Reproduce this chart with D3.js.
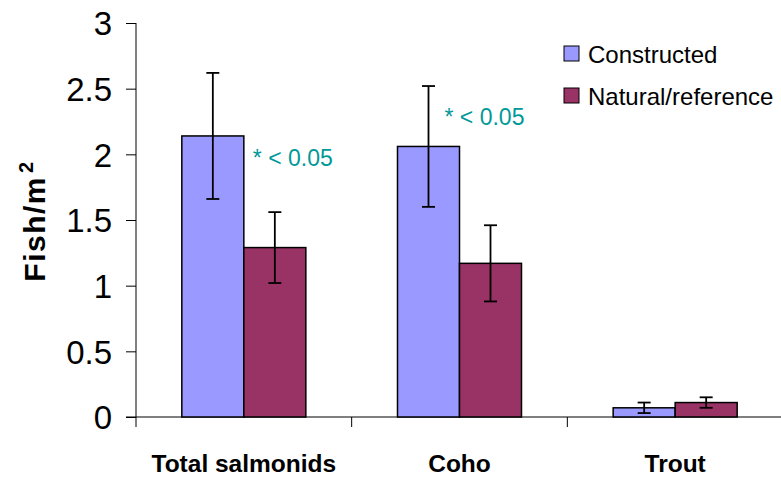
<!DOCTYPE html>
<html>
<head>
<meta charset="utf-8">
<script src="https://cdn.jsdelivr.net/npm/d3@7"></script>
<style>
  html, body { margin: 0; padding: 0; background: #fff; }
  svg { display: block; font-family: "Liberation Sans", Arial, sans-serif; }
</style>
</head>
<body>
<svg id="chart" width="781" height="480"></svg>
<script>
// Fish density by habitat type
const categories = ["Total salmonids", "Coho", "Trout"];
const seriesNames = ["Constructed", "Natural/reference"];
const constructed = [2.14, 2.06, 0.07];
const constructedErr = [0.48, 0.46, 0.04];
const natural = [1.29, 1.17, 0.11];
const naturalErr = [0.27, 0.29, 0.04];
const yTicks = [0, 0.5, 1, 1.5, 2, 2.5, 3];
const annotations = [
  { category: "Total salmonids", value: 1.91, text: "* < 0.05" },
  { category: "Coho", value: 2.22, text: "* < 0.05" }
];

const colors = ["#9999FF", "#993366"];

const svg = d3.select("#chart");
const margin = { left: 136, right: -2, top: 23, bottom: 63 };
const width = 781 - margin.left - margin.right;
const height = 480 - margin.top - margin.bottom;

const g = svg.append("g").attr("transform", `translate(${margin.left},${margin.top})`);

const x = d3.scaleBand().domain(categories).range([0, width]).paddingInner(0).paddingOuter(0);
const x1 = d3.scaleBand().domain(seriesNames).range([0, 124]);
const groupOffset = (x.bandwidth() - 124) / 2;
const y = d3.scaleLinear().domain([0, 3]).range([height, 0]);

// Y axis
const yAxis = d3.axisLeft(y).tickValues(yTicks).tickSize(10).tickPadding(14)
  .tickFormat(d => d3.format("")(d));
const yg = g.append("g").call(yAxis);
yg.select(".domain").remove();
yg.append("line").attr("x1", 0).attr("x2", 0).attr("y1", 0).attr("y2", height + 10)
  .attr("stroke", "#000").attr("stroke-width", 1);
yg.selectAll(".tick line").attr("stroke", "#000");
yg.selectAll(".tick text").attr("font-size", 33).attr("fill", "#000")
  .attr("dy", "0.36em")
  .attr("font-family", "'Liberation Sans', Arial, sans-serif");

// X axis
const xg = g.append("g").attr("transform", `translate(0,${height})`);
xg.append("line").attr("x1", -10).attr("x2", width).attr("y1", 0).attr("y2", 0)
  .attr("stroke", "#000");
xg.selectAll(".sep").data(categories.slice(1)).join("line")
  .attr("class", "sep")
  .attr("x1", d => x(d)).attr("x2", d => x(d)).attr("y1", 0).attr("y2", 10)
  .attr("stroke", "#000");
xg.selectAll(".cat").data(categories).join("text")
  .attr("class", "cat")
  .attr("x", d => x(d) + x.bandwidth() / 2)
  .attr("y", 55)
  .attr("text-anchor", "middle")
  .attr("font-size", 24.5).attr("font-weight", "bold")
  .text(d => d);

// Bars
const rows = categories.map((c, i) => ({
  category: c,
  values: [
    { series: seriesNames[0], v: constructed[i], e: constructedErr[i], color: colors[0] },
    { series: seriesNames[1], v: natural[i], e: naturalErr[i], color: colors[1] }
  ]
}));

const groups = g.selectAll(".grp").data(rows).join("g")
  .attr("class", "grp")
  .attr("transform", d => `translate(${x(d.category) + groupOffset},0)`);

groups.selectAll("rect").data(d => d.values).join("rect")
  .attr("x", d => x1(d.series))
  .attr("y", d => y(d.v))
  .attr("width", x1.bandwidth())
  .attr("height", d => y(0) - y(d.v))
  .attr("fill", d => d.color)
  .attr("stroke", "#000").attr("stroke-width", 1.5);

// Error bars
const eb = groups.selectAll(".err").data(d => d.values).join("g").attr("class", "err")
  .attr("transform", d => `translate(${x1(d.series) + x1.bandwidth() / 2},0)`);
eb.append("line").attr("x1", 0).attr("x2", 0)
  .attr("y1", d => y(d.v + d.e)).attr("y2", d => y(d.v - d.e))
  .attr("stroke", "#000").attr("stroke-width", 1.8);
eb.append("line").attr("x1", -6.5).attr("x2", 6.5)
  .attr("y1", d => y(d.v + d.e)).attr("y2", d => y(d.v + d.e))
  .attr("stroke", "#000").attr("stroke-width", 1.8);
eb.append("line").attr("x1", -6.5).attr("x2", 6.5)
  .attr("y1", d => y(d.v - d.e)).attr("y2", d => y(d.v - d.e))
  .attr("stroke", "#000").attr("stroke-width", 1.8);

// Significance notes: first sits beside the constructed bar, second beside its error cap
const noteShift = [x1.bandwidth() + 9, x1.bandwidth() / 2 + 16];
g.selectAll(".note").data(annotations).join("text")
  .attr("class", "note")
  .attr("x", (d, i) => x(d.category) + groupOffset + noteShift[i])
  .attr("y", d => y(d.value))
  .attr("fill", "#009999")
  .attr("font-size", 23)
  .attr("xml:space", "preserve")
  .text(d => d.text);

// Legend
const legend = svg.append("g").attr("transform", "translate(564,46)");
seriesNames.forEach((s, i) => {
  const row = legend.append("g").attr("transform", `translate(0,${i * 42})`);
  row.append("rect").attr("x", 0).attr("y", 0).attr("width", 15).attr("height", 15)
    .attr("fill", colors[i]).attr("stroke", "#000").attr("stroke-width", 1);
  row.append("text").attr("x", 24).attr("y", 17).attr("font-size", 24).attr("fill", "#000").text(s);
});

// Y axis title
svg.append("text")
  .attr("transform", "translate(45,221) rotate(-90)")
  .attr("text-anchor", "middle")
  .attr("font-size", 30).attr("font-weight", "bold")
  .attr("letter-spacing", 1.5)
  .html("Fish/m<tspan dx='3' dy='-12' font-size='20'>2</tspan>");
</script>
</body>
</html>
